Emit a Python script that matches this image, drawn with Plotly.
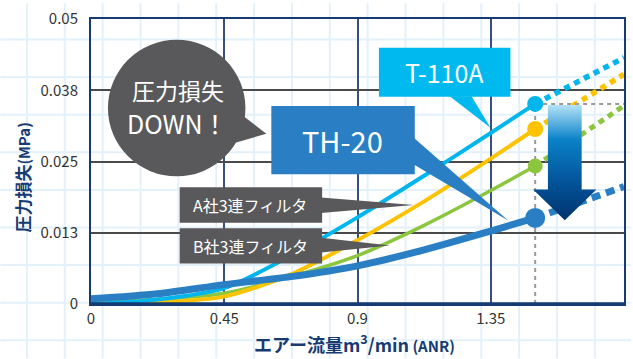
import plotly.graph_objects as go

# ---------------- data ----------------
flow = [0, 0.225, 0.45, 0.675, 0.9, 1.125, 1.35, 1.5]
t110a = [0.0, 0.0008, 0.0028, 0.0085, 0.0152, 0.0225, 0.0300, 0.0351]
filter_a = [0.0, 0.0003, 0.0013, 0.0052, 0.0112, 0.0180, 0.0255, 0.0307]
filter_b = [0.0005, 0.0008, 0.0019, 0.0048, 0.0085, 0.0138, 0.0199, 0.0242]
th20 = [0.0009, 0.0018, 0.0034, 0.0048, 0.0067, 0.0095, 0.0128, 0.0151]

ext_flow = [1.5, 1.8]
t110a_ext = [0.0351, 0.0432]
filter_a_ext = [0.0307, 0.0403]
filter_b_ext = [0.0242, 0.0348]
th20_ext = [0.0151, 0.0206]

x_ticks = [0, 0.45, 0.9, 1.35, 1.8]
x_ticktext = ["0", "0.45", "0.9", "1.35", "1.8"]
y_ticks = [0, 0.0125, 0.025, 0.0375, 0.05]
y_ticktext = ["0", "0.013", "0.025", "0.038", "0.05"]

# ---------------- style ----------------
C_CYAN = "#00b6ec"
C_YEL = "#fdc300"
C_GRN = "#8cc63f"
C_BLUE = "#2a7fc4"
C_GRAY = "#59595b"
C_NAVY = "#163a72"
FONT = "Noto Sans CJK JP"

W, H = 633, 359
ML, MR, MT, MB = 91, 7, 16, 55
PW, PH = W - ML - MR, H - MT - MB


def px(x):
    return (x - ML) / PW


def py(y):
    return (H - MB - y) / PH


fig = go.Figure()

series = [
    (filter_b, filter_b_ext, C_GRN, 3.5, 15),
    (filter_a, filter_a_ext, C_YEL, 4, 16),
    (t110a, t110a_ext, C_CYAN, 4, 16),
    (th20, th20_ext, C_BLUE, 7, 20),
]

# dotted extensions
for vals, ext, col, lw, ms in series:
    fig.add_trace(go.Scatter(x=ext_flow, y=ext, mode="lines",
                             line=dict(color=col, width=lw + 1.5 if lw < 6 else lw,
                                       dash="6px,5px" if lw < 6 else "9px,6px"),
                             hoverinfo="skip", showlegend=False))

# reference dashed guides
fig.add_trace(go.Scatter(x=[flow[-1], flow[-1]], y=[0, t110a[-1]], mode="lines",
                         line=dict(color="#9a9a9a", width=2, dash="4px,4px"),
                         hoverinfo="skip", showlegend=False))
fig.add_trace(go.Scatter(x=[flow[-1], x_ticks[-1]], y=[t110a[-1], t110a[-1]], mode="lines",
                         line=dict(color="#9a9a9a", width=2, dash="4px,4px"),
                         hoverinfo="skip", showlegend=False))

# main curves
for vals, ext, col, lw, ms in series:
    fig.add_trace(go.Scatter(x=flow, y=vals, mode="lines",
                             line=dict(color=col, width=lw, shape="spline", smoothing=0.8),
                             hoverinfo="skip", showlegend=False))
    fig.add_trace(go.Scatter(x=[flow[-1]], y=[vals[-1]], mode="markers",
                             marker=dict(color=col, size=ms),
                             hoverinfo="skip", showlegend=False))

# gradient down arrow (from T-110A level to TH-20 level)
top = t110a[-1] - 0.0002
tip = th20[-1] - 0.0004
shaft_bot = tip + 0.0054
cx = 1.6
hw, hh = 0.057, 0.107
fig.add_trace(go.Scatter(
    x=[cx - hw, cx + hw, cx + hw, cx + hh, cx, cx - hh, cx - hw, cx - hw],
    y=[top, top, shaft_bot, shaft_bot, tip, shaft_bot, shaft_bot, top],
    mode="lines", fill="toself", line=dict(width=0),
    fillgradient=dict(type="vertical",
                      colorscale=[[0, "#00336e"], [0.35, "#04559c"], [0.7, "#0a82c8"], [1, "#b4e2f8"]]),
    hoverinfo="skip", showlegend=False))

shapes = []
# background grid paper
gx = 26.7
while gx < W:
    shapes.append(dict(type="line", xref="paper", yref="paper", layer="below",
                       x0=px(gx), x1=px(gx), y0=py(H), y1=py(0),
                       line=dict(color="#e3f1fb", width=2)))
    gx += 38
gy = 340.7
while gy > 0:
    shapes.append(dict(type="line", xref="paper", yref="paper", layer="below",
                       x0=px(0), x1=px(W), y0=py(gy), y1=py(gy),
                       line=dict(color="#e3f1fb", width=2)))
    gy -= 38

# thicker bottom axis line
shapes.append(dict(type="line", xref="paper", yref="paper", x0=0, x1=1, y0=0, y1=0,
                   line=dict(color=C_NAVY, width=3.5)))


def path(points):
    return "M " + " L ".join(f"{px(a):.5f},{py(b):.5f}" for a, b in points) + " Z"


def rect(x0, y0, x1, y1, col):
    return dict(type="rect", xref="paper", yref="paper", x0=px(x0), x1=px(x1),
                y0=py(y1), y1=py(y0), fillcolor=col, line=dict(width=0))


# "圧力損失 DOWN!" bubble
shapes.append(dict(type="circle", xref="paper", yref="paper",
                   x0=px(108), x1=px(246), y0=py(175), y1=py(37),
                   fillcolor=C_GRAY, line=dict(width=0)))
shapes.append(dict(type="path", xref="paper", yref="paper",
                   path=path([(240, 111), (236, 141), (267, 132)]),
                   fillcolor=C_GRAY, line=dict(width=0)))

# T-110A label
shapes.append(rect(380, 45, 512, 94.5, "#00b9ef"))
shapes.append(dict(type="path", xref="paper", yref="paper",
                   path=path([(451, 94), (473, 94), (492, 126)]),
                   fillcolor="#00b9ef", line=dict(width=0)))

# TH-20 label
shapes.append(rect(272, 104, 416, 173, C_BLUE))
shapes.append(dict(type="path", xref="paper", yref="paper",
                   path=path([(415, 136), (415, 163), (510, 220)]),
                   fillcolor=C_BLUE, line=dict(width=0)))

# A / B labels
shapes.append(rect(180, 186, 323, 222, C_GRAY))
shapes.append(dict(type="path", xref="paper", yref="paper",
                   path=path([(322, 196.5), (322, 212), (415, 204)]),
                   fillcolor=C_GRAY, line=dict(width=0)))
shapes.append(rect(180, 227.5, 323, 263, C_GRAY))
shapes.append(dict(type="path", xref="paper", yref="paper",
                   path=path([(322, 237), (322, 252), (391, 245)]),
                   fillcolor=C_GRAY, line=dict(width=0)))

annotations = []


def label(x, y, text, size, color="white", angle=0):
    annotations.append(dict(xref="paper", yref="paper", x=px(x), y=py(y),
                            text=text, showarrow=False, textangle=angle,
                            xanchor="center", yanchor="middle",
                            font=dict(family=FONT, size=size, color=color)))


label(178, 88, "圧力損失", 23)
label(178, 121, "DOWN！", 25)
label(446, 70, "T-110A", 25)
label(343, 138, "TH-20", 29)
label(251, 204, "A社3連フィルタ", 16)
label(251, 245.5, "B社3連フィルタ", 16)

label(22, 176, "<b>圧力損失</b><b style='font-size:15px'>(MPa)</b>", 17, color=C_NAVY, angle=-90)
label(355, 343, "<b>エアー流量m<sup>3</sup>/min</b><b style='font-size:15px'> (ANR)</b>", 18,
      color=C_NAVY)

fig.update_layout(
    width=W, height=H,
    margin=dict(l=ML, r=MR, t=MT, b=MB, pad=0),
    paper_bgcolor="white",
    plot_bgcolor="rgba(0,0,0,0)",
    showlegend=False,
    shapes=shapes,
    annotations=annotations,
    font=dict(family=FONT, color="#333333", size=15),
    xaxis=dict(range=[0, 1.8], tickvals=x_ticks, ticktext=x_ticktext,
               showgrid=True, gridcolor="#34507e", gridwidth=1.5,
               zeroline=False, showline=True, linecolor=C_NAVY, linewidth=2, mirror=True,
               ticks="", ticklabelstandoff=0,
               tickfont=dict(family=FONT, size=15, color="#333333")),
    yaxis=dict(range=[0, 0.05], tickvals=y_ticks, ticktext=y_ticktext,
               showgrid=True, gridcolor="#4a4a4a", gridwidth=1.5,
               zeroline=False, showline=True, linecolor=C_NAVY, linewidth=2, mirror=True,
               ticks="", ticklabelstandoff=8,
               tickfont=dict(family=FONT, size=15, color="#333333")),
)

fig.write_html("out.html")
